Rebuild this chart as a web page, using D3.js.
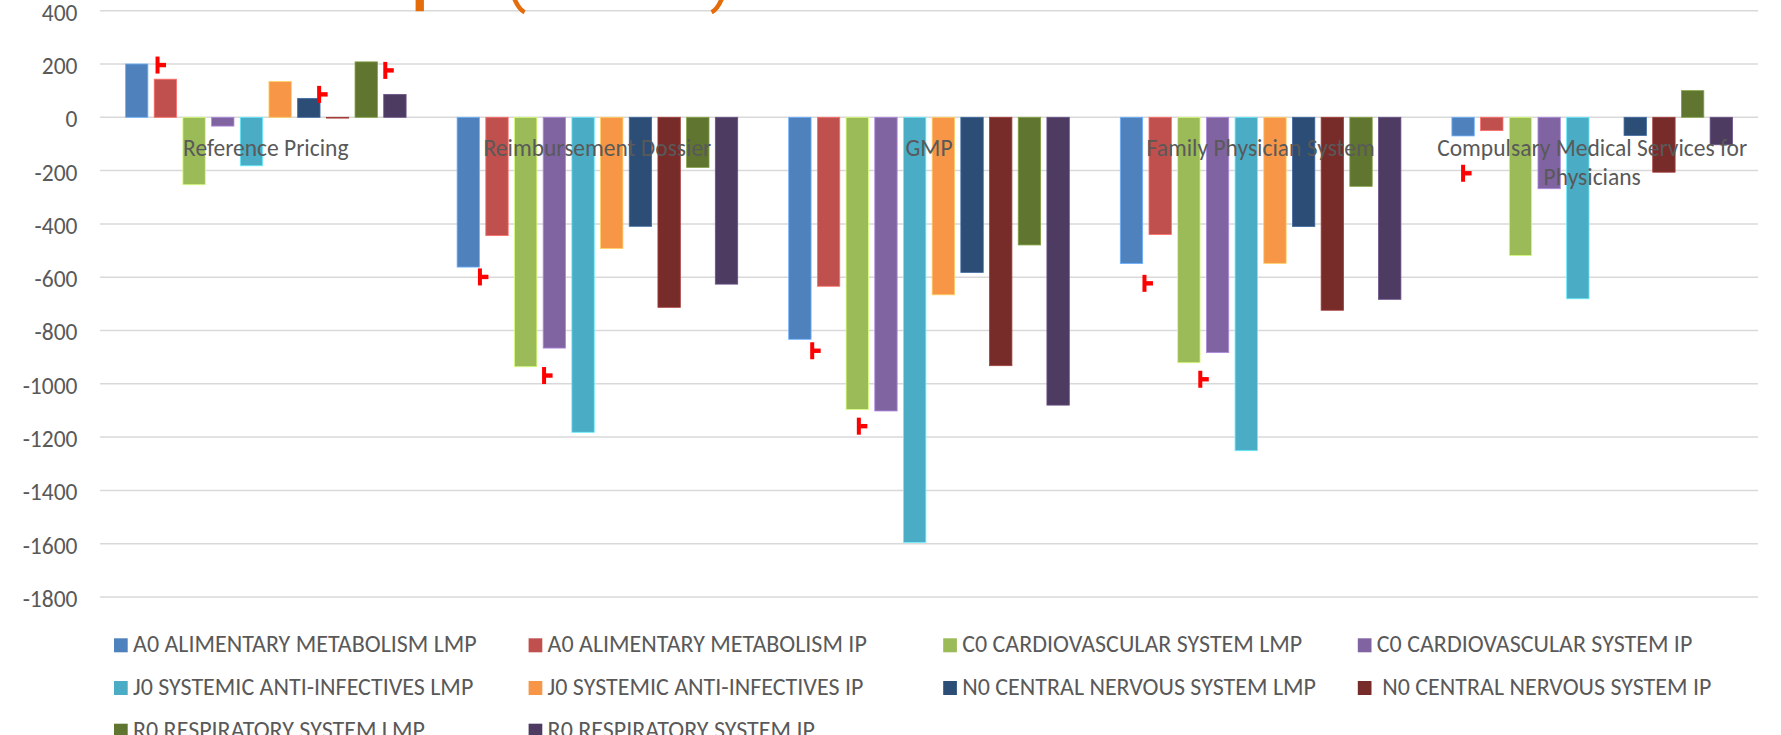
<!DOCTYPE html>
<html>
<head>
<meta charset="utf-8">
<script src="https://cdn.jsdelivr.net/npm/d3@7"></script>
<style>
  html, body { margin: 0; padding: 0; background: #ffffff; }
  svg { display: block; }
  text { font-family: Carlito, Lato, "Liberation Sans", sans-serif; fill: #595959; }
</style>
</head>
<body>
<svg id="chart" width="1781" height="735"></svg>
<script>
// Policy categories along the horizontal axis
const categories = [
  "Reference Pricing",
  "Reimbursement Dossier",
  "GMP",
  "Family Physician System",
  "Compulsary Medical Services for Physicians"
];

// Series names (ATC group x price type)
const seriesNames = [
  "A0 ALIMENTARY METABOLISM LMP",
  "A0 ALIMENTARY METABOLISM IP",
  "C0 CARDIOVASCULAR SYSTEM LMP",
  "C0 CARDIOVASCULAR SYSTEM IP",
  "J0 SYSTEMIC ANTI-INFECTIVES LMP",
  "J0 SYSTEMIC ANTI-INFECTIVES IP",
  "N0 CENTRAL NERVOUS SYSTEM LMP",
  " N0 CENTRAL NERVOUS SYSTEM IP",
  "R0 RESPIRATORY SYSTEM LMP",
  "R0 RESPIRATORY SYSTEM IP"
];

// Values per series, one entry per category
const a0Lmp = [200, -562, -833, -549, -70];
const a0Ip  = [143, -444, -634, -440, -50];
const c0Lmp = [-253, -936, -1096, -921, -519];
const c0Ip  = [-33, -866, -1102, -883, -268];
const j0Lmp = [-182, -1182, -1595, -1251, -681];
const j0Ip  = [134, -492, -666, -548, 0];
const n0Lmp = [71, -409, -582, -410, -68];
const n0Ip  = [-3, -713, -932, -724, -206];
const r0Lmp = [208, -188, -479, -259, 100];
const r0Ip  = [86, -626, -1080, -683, -103];

const seriesValues = [a0Lmp, a0Ip, c0Lmp, c0Ip, j0Lmp, j0Ip, n0Lmp, n0Ip, r0Lmp, r0Ip];

const seriesColors = [
  "#4F81BD", "#C0504D", "#9BBB59", "#8064A2", "#4BACC6",
  "#F79646", "#2C4D75", "#772C2A", "#5F7530", "#4D3B62"
];

// Y axis ticks
const yTicks = [400, 200, 0, -200, -400, -600, -800, -1000, -1200, -1400, -1600, -1800];

// Red significance markers: category, series, position across the bar, value at marker centre
const markerCat    = [0, 0, 0, 1, 1, 2, 2, 3, 3, 4];
const markerSeries = [1, 6, 9, 0, 3, 0, 2, 0, 2, 0];
const markerPos    = [0.15, 0.96, 0.07, 1.02, 0.04, 1.05, 0.57, 1.08, 1.01, 0.5];
const markerValue  = [196, 86, 176, -599, -969, -876, -1159, -623, -983, -210];

const svg = d3.select("#chart");
const FONT = 23.5;
const LEGEND_FONT = 24;

const plotLeft = 100, plotRight = 1758;
const y = d3.scaleLinear().domain([-1800, 400]).range([597, 10.7]);

const x0 = d3.scaleBand()
  .domain(d3.range(categories.length))
  .range([plotLeft, plotRight])
  .paddingInner(0).paddingOuter(0);

const groupGap = 25.5;
const x1 = d3.scaleBand()
  .domain(d3.range(seriesNames.length))
  .range([groupGap, x0.bandwidth() - groupGap])
  .paddingInner(0.22).paddingOuter(0);

// Gridlines
const grid = svg.append("g").attr("class", "grid");
grid.selectAll("line").data(yTicks).join("line")
  .attr("x1", plotLeft).attr("x2", plotRight)
  .attr("y1", d => y(d)).attr("y2", d => y(d))
  .attr("stroke", "#d9d9d9").attr("stroke-width", 1.5);

// Y axis labels
const yAxis = d3.axisLeft(y).tickValues(yTicks).tickSize(0).tickPadding(0).tickFormat(d3.format("d"));
const yg = svg.append("g").attr("transform", `translate(${77.5},0)`).call(yAxis);
yg.select(".domain").remove();
yg.attr("font-family", null).attr("font-size", null);
yg.selectAll("text")
  .attr("font-size", FONT)
  .attr("fill", "#595959")
  .attr("dy", "0.4em")
  .text(d => String(d));

// Bars
const groups = svg.append("g").attr("class", "bars")
  .selectAll("g").data(categories).join("g")
  .attr("transform", (d, i) => `translate(${x0(i)},0)`);

groups.selectAll("rect")
  .data((d, ci) => seriesValues.map((vals, si) => ({ si, v: vals[ci] })))
  .join("rect")
  .attr("x", d => x1(d.si))
  .attr("width", x1.bandwidth())
  .attr("y", d => y(Math.max(0, d.v)))
  .attr("height", d => Math.abs(y(d.v) - y(0)))
  .attr("fill", d => seriesColors[d.si])
  .attr("stroke", d => d3.color(seriesColors[d.si]).brighter(0.9))
  .attr("stroke-width", d => d.v === 0 ? 0 : 0.8);

// Category labels (wrapped to the category width)
const catLayer = svg.append("g").attr("class", "cat-labels");
categories.forEach((name, i) => {
  const cx = x0(i) + x0.bandwidth() / 2;
  const t = catLayer.append("text")
    .attr("x", cx)
    .attr("y", 156)
    .attr("text-anchor", "middle")
    .attr("font-size", FONT);
  const words = name.split(" ");
  let line = [];
  let tspan = t.append("tspan").attr("x", cx).attr("dy", 0);
  words.forEach(w => {
    line.push(w);
    tspan.text(line.join(" "));
    if (tspan.node().getComputedTextLength() > x0.bandwidth() - 4 && line.length > 1) {
      line.pop();
      tspan.text(line.join(" "));
      line = [w];
      tspan = t.append("tspan").attr("x", cx).attr("dy", 29).text(w);
    }
  });
});

// Red markers
const mk = svg.append("g").attr("class", "markers");
markerValue.forEach((v, k) => {
  const cx = x0(markerCat[k]) + x1(markerSeries[k]) + markerPos[k] * x1.bandwidth();
  const cy = y(v);
  mk.append("rect").attr("x", cx - 2).attr("y", cy - 8.5).attr("width", 4).attr("height", 17).attr("fill", "#ff0000");
  mk.append("rect").attr("x", cx + 1.5).attr("y", cy - 2.2).attr("width", 7).attr("height", 4.4).attr("fill", "#ff0000");
});

// Orange callout fragments along the top edge
const top400 = y(400);
const deco = svg.append("g").attr("class", "callout");
deco.append("rect")
  .attr("x", x0(1) - 16).attr("y", -2).attr("width", 8.3).attr("height", top400 + 2.5)
  .attr("fill", "#E46C0A");
deco.append("path")
  .attr("d", `M${x0(1) + 81},-6 Q${x0(1) + 86},${top400 - 2} ${x0(1) + 93},${top400 + 1.5}`)
  .attr("fill", "none").attr("stroke", "#E46C0A").attr("stroke-width", 4.5);
deco.append("path")
  .attr("d", `M${x0(1) + 292},-6 Q${x0(1) + 287},${top400 - 2} ${x0(1) + 280},${top400 + 1.5}`)
  .attr("fill", "none").attr("stroke", "#E46C0A").attr("stroke-width", 4.5);

// Legend: four columns, row-major
const legendX = 114, legendColW = 414.6, legendY = 652.3, legendRowH = 42.7;
const lg = svg.append("g").attr("class", "legend");
seriesNames.forEach((name, i) => {
  const col = i % 4, row = Math.floor(i / 4);
  const gx = legendX + col * legendColW;
  const gy = legendY + row * legendRowH;
  lg.append("rect").attr("x", gx).attr("y", gy - 14).attr("width", 13.7).attr("height", 14)
    .attr("fill", seriesColors[i]);
  lg.append("text").attr("x", gx + 19).attr("y", gy)
    .attr("font-size", LEGEND_FONT)
    .style("white-space", "pre")
    .text(name);
});
</script>
</body>
</html>
